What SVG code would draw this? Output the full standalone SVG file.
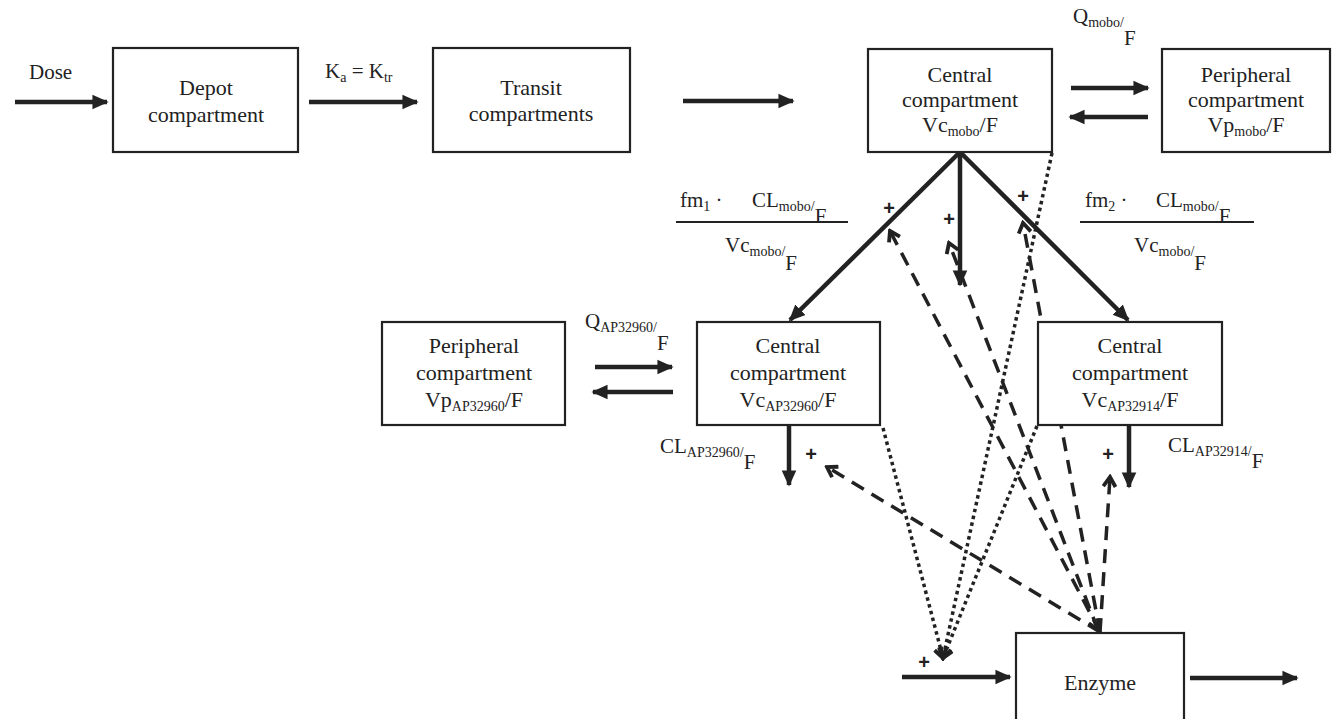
<svg xmlns="http://www.w3.org/2000/svg" width="1335" height="719" viewBox="0 0 1335 719">
<defs>
<style>
.box{fill:#fff;stroke:#222;stroke-width:2.2}
.t{font-family:"Liberation Serif","Times New Roman",serif;font-size:22px;fill:#222}
.lb{font-family:"Liberation Serif","Times New Roman",serif;font-size:21px;fill:#222}
.sub{font-size:14px}
.solid{stroke:#222;stroke-width:4.5;fill:none}
.thin{stroke:#222;stroke-width:2;fill:none}
.dash{stroke:#222;stroke-width:3.5;fill:none;stroke-dasharray:14 9}
.dot{stroke:#222;stroke-width:3.5;fill:none;stroke-dasharray:3.5 3.5}
.plus{font-family:"Liberation Sans",Arial,sans-serif;font-size:20px;font-weight:bold;fill:#222}
</style>
<marker id="ah" viewBox="0 0 10 10" refX="9" refY="5" markerWidth="3.6" markerHeight="3.6" orient="auto" markerUnits="strokeWidth">
<path d="M0,0.5 L10,5 L0,9.5 z" fill="#222"/>
</marker>
<marker id="oa" viewBox="0 0 12 12" refX="10" refY="6" markerWidth="4.4" markerHeight="4.4" orient="auto-start-reverse" markerUnits="strokeWidth">
<path d="M2.5,1.2 L10,6 L2.5,10.8" fill="none" stroke="#222" stroke-width="3" stroke-dasharray="none"/>
</marker>
</defs>
<rect width="1335" height="719" fill="#fff"/>

<g id="connectors">
<line class="solid" x1="15" y1="102" x2="107" y2="102" marker-end="url(#ah)"/>
<line class="solid" x1="309" y1="102" x2="417" y2="102" marker-end="url(#ah)"/>
<line class="solid" x1="683" y1="101" x2="793" y2="101" marker-end="url(#ah)"/>
<line class="solid" x1="1071" y1="88" x2="1148" y2="88" marker-end="url(#ah)"/>
<line class="solid" x1="1148" y1="117" x2="1070" y2="117" marker-end="url(#ah)"/>
<line class="solid" x1="960" y1="152" x2="790" y2="320" marker-end="url(#ah)"/>
<line class="solid" x1="960" y1="152" x2="960" y2="285" marker-end="url(#ah)"/>
<line class="solid" x1="960" y1="152" x2="1128" y2="320" marker-end="url(#ah)"/>
<line class="solid" x1="595" y1="367" x2="672" y2="367" marker-end="url(#ah)"/>
<line class="solid" x1="673" y1="392" x2="593" y2="392" marker-end="url(#ah)"/>
<line class="solid" x1="789" y1="425" x2="789" y2="485" marker-end="url(#ah)"/>
<line class="solid" x1="1129" y1="425" x2="1129" y2="487" marker-end="url(#ah)"/>
<line class="solid" x1="902" y1="677" x2="1010" y2="677" marker-end="url(#ah)"/>
<line class="solid" x1="1190" y1="678" x2="1297" y2="678" marker-end="url(#ah)"/>
<line class="thin" x1="676" y1="222" x2="848" y2="222"/>
<line class="thin" x1="1080" y1="222" x2="1254" y2="222"/>
<line class="dash" x1="1100" y1="632" x2="890" y2="231" marker-end="url(#oa)"/>
<line class="dash" x1="1098" y1="630" x2="949" y2="243" marker-start="url(#oa)" marker-end="url(#oa)"/>
<line class="dash" x1="1100" y1="632" x2="1023" y2="223" marker-end="url(#oa)"/>
<line class="dash" x1="1100" y1="632" x2="827" y2="467" marker-end="url(#oa)"/>
<line class="dash" x1="1100" y1="632" x2="1110" y2="477" marker-end="url(#oa)"/>
<line class="dot" x1="1052" y1="153" x2="943" y2="658" marker-end="url(#oa)"/>
<line class="dot" x1="883" y1="428" x2="943" y2="658" marker-end="url(#oa)"/>
<line class="dot" x1="1037" y1="426" x2="943" y2="658" marker-end="url(#oa)"/>
</g>

<g id="labels">
<text class="lb" x="29" y="79">Dose</text>
<text class="lb" x="325" y="78">K<tspan class="sub" dy="4">a</tspan><tspan dy="-4"> = K</tspan><tspan class="sub" dy="4">tr</tspan></text>
<text class="lb" x="1073" y="23">Q<tspan class="sub" dy="4">mobo/</tspan><tspan dy="18">F</tspan></text>
<text class="lb" x="585" y="328">Q<tspan class="sub" dy="4">AP32960/</tspan><tspan dy="18">F</tspan></text>
<text class="lb" x="660" y="453">CL<tspan class="sub" dy="4">AP32960/</tspan><tspan dy="12">F</tspan></text>
<text class="lb" x="1168" y="452">CL<tspan class="sub" dy="4">AP32914/</tspan><tspan dy="12">F</tspan></text>
<text class="lb" x="680" y="207">fm<tspan class="sub" dy="4">1</tspan><tspan dy="-4"> ·</tspan><tspan x="752">CL</tspan><tspan class="sub" dy="4">mobo/</tspan><tspan dy="12">F</tspan></text>
<text class="lb" x="725" y="252">Vc<tspan class="sub" dy="4">mobo/</tspan><tspan dy="14">F</tspan></text>
<text class="lb" x="1085" y="207">fm<tspan class="sub" dy="4">2</tspan><tspan dy="-4"> ·</tspan><tspan x="1156">CL</tspan><tspan class="sub" dy="4">mobo/</tspan><tspan dy="12">F</tspan></text>
<text class="lb" x="1134" y="252">Vc<tspan class="sub" dy="4">mobo/</tspan><tspan dy="14">F</tspan></text>
<text class="plus" x="889" y="215" text-anchor="middle">+</text>
<text class="plus" x="949" y="226" text-anchor="middle">+</text>
<text class="plus" x="1023" y="203" text-anchor="middle">+</text>
<text class="plus" x="811" y="461" text-anchor="middle">+</text>
<text class="plus" x="1108" y="461" text-anchor="middle">+</text>
<text class="plus" x="924" y="669" text-anchor="middle">+</text>
</g>

<g id="depot">
<rect class="box" x="113" y="48" width="185" height="104"/>
<text class="t" x="206" y="95" text-anchor="middle">Depot</text>
<text class="t" x="206" y="122" text-anchor="middle">compartment</text>
</g>
<g id="transit">
<rect class="box" x="433" y="48" width="197" height="104"/>
<text class="t" x="531" y="95" text-anchor="middle">Transit</text>
<text class="t" x="531" y="121" text-anchor="middle">compartments</text>
</g>
<g id="central-mobo">
<rect class="box" x="868" y="49" width="184" height="103"/>
<text class="t" x="960" y="82" text-anchor="middle">Central</text>
<text class="t" x="960" y="107" text-anchor="middle">compartment</text>
<text class="t" x="960" y="132" text-anchor="middle">Vc<tspan class="sub" dy="4">mobo</tspan><tspan dy="-4">/F</tspan></text>
</g>
<g id="peripheral-mobo">
<rect class="box" x="1162" y="49" width="168" height="103"/>
<text class="t" x="1246" y="82" text-anchor="middle">Peripheral</text>
<text class="t" x="1246" y="107" text-anchor="middle">compartment</text>
<text class="t" x="1246" y="132" text-anchor="middle">Vp<tspan class="sub" dy="4">mobo</tspan><tspan dy="-4">/F</tspan></text>
</g>
<g id="peripheral-ap32960">
<rect class="box" x="382" y="322" width="183" height="103"/>
<text class="t" x="474" y="353" text-anchor="middle">Peripheral</text>
<text class="t" x="474" y="380" text-anchor="middle">compartment</text>
<text class="t" x="474" y="407" text-anchor="middle">Vp<tspan class="sub" dy="4">AP32960</tspan><tspan dy="-4">/F</tspan></text>
</g>
<g id="central-ap32960">
<rect class="box" x="697" y="322" width="183" height="103"/>
<text class="t" x="788" y="353" text-anchor="middle">Central</text>
<text class="t" x="788" y="380" text-anchor="middle">compartment</text>
<text class="t" x="788" y="407" text-anchor="middle">Vc<tspan class="sub" dy="4">AP32960</tspan><tspan dy="-4">/F</tspan></text>
</g>
<g id="central-ap32914">
<rect class="box" x="1038" y="322" width="184" height="103"/>
<text class="t" x="1130" y="353" text-anchor="middle">Central</text>
<text class="t" x="1130" y="380" text-anchor="middle">compartment</text>
<text class="t" x="1130" y="407" text-anchor="middle">Vc<tspan class="sub" dy="4">AP32914</tspan><tspan dy="-4">/F</tspan></text>
</g>
<g id="enzyme">
<rect class="box" x="1016" y="633" width="168" height="100"/>
<text class="t" x="1100" y="690" text-anchor="middle">Enzyme</text>
</g>
</svg>
